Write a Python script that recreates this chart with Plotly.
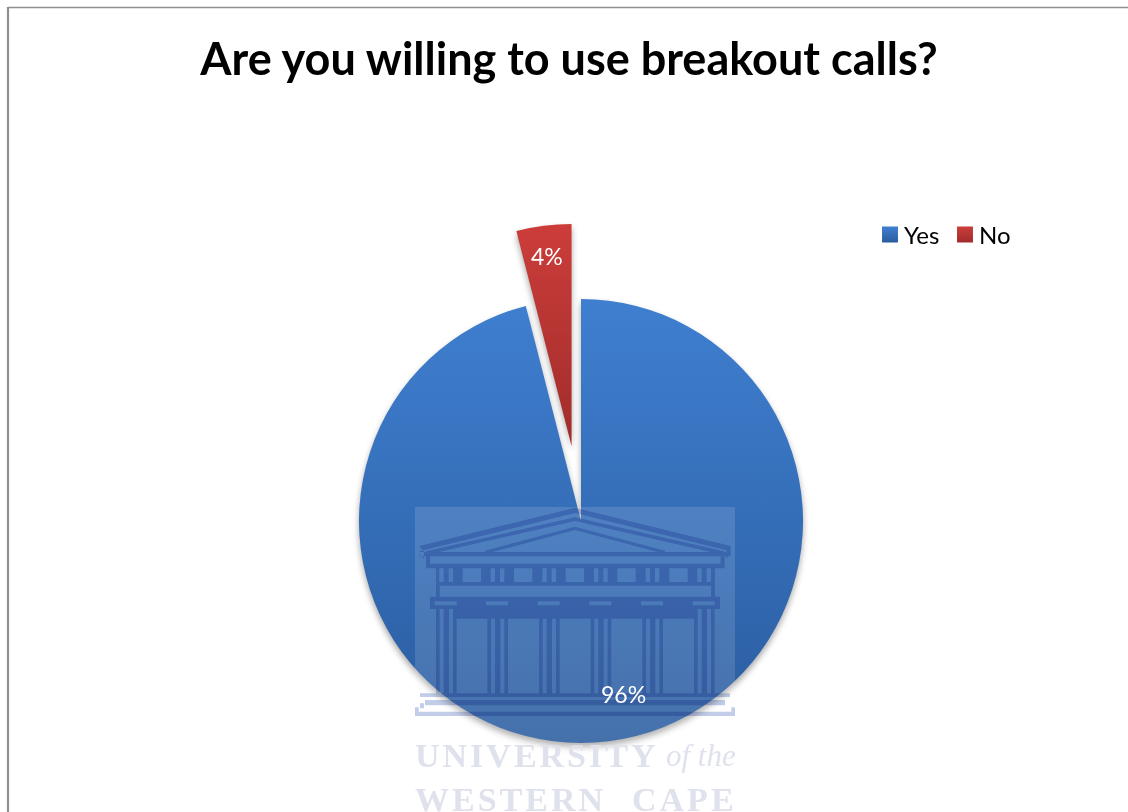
import plotly.graph_objects as go

# Survey result
labels = ["Yes", "No"]
percent = [96, 4]
colors = ["#3a78c8", "#c93c39"]
gradient_top = ["#3f7fd0", "#cc3d3a"]
gradient_bottom = ["#2a5c9f", "#a02c2b"]
chart_title = "Are you willing to use breakout calls?"

WIDTH, HEIGHT = 1128, 830  # the sheet runs past the bottom of the window


def fx(px):
    return px / WIDTH


def fy(py):
    return 1 - py / HEIGHT


def bx(u):
    return fx(400 + u / 3)


def by(v):
    return fy(490 + v / 3)


def poly(points):
    return "M" + "L".join(f"{bx(u):.5f},{by(v):.5f}" for u, v in points) + "Z"


def box(u0, v0, u1, v1):
    return poly([(u0, v0), (u1, v0), (u1, v1), (u0, v1)])


def chevron(left, apex, right, th):
    return poly([left, apex, right, (right[0], right[1] + th), (apex[0], apex[1] + th), (left[0], left[1] + th)])


def gaps(start, end, openings):
    """Solid spans between start and end once the openings are taken out."""
    spans, cursor = [], start
    for a, b in openings:
        spans.append((cursor, a))
        cursor = b
    spans.append((cursor, end))
    return spans


# Crest emblem: pediment, frieze, capitals, columns and stepped base
column_left = [108, 262, 417, 572, 727, 882]
parts = [
    chevron((58, 168), (525, 53), (992, 168), 16),
    chevron((78, 184), (525, 82), (972, 184), 11),
    chevron((255, 182), (525, 110), (795, 182), 10),
    box(58, 186, 992, 199),
    poly([(58, 168), (58, 192), (72, 206), (72, 186)]),
    poly([(992, 168), (992, 192), (978, 206), (978, 186)]),
    box(78, 199, 90, 234),
    box(962, 199, 974, 234),
    box(78, 221, 974, 235),
]
frieze_open = []
for left, win in zip(column_left, [188, 342, 497, 652, 808, None]):
    frieze_open += [(left + 10, left + 23), (left + 38, left + 51)]
    if win:
        frieze_open.append((win, win + 55))
for a, b in gaps(108, 945, frieze_open):
    parts.append(box(a, 235, b, 276))
parts += [
    box(108, 276, 945, 287),
    box(108, 287, 119, 320),
    box(933, 287, 945, 320),
    box(90, 320, 960, 334),
]
caps_open = [(c - 4, c + 62) for c in column_left]
for a, b in gaps(90, 960, caps_open):
    parts.append(box(a, 334, b, 346))
parts += [box(90, 346, 960, 357), box(170, 357, 882, 386)]
for c in column_left:
    for a, b in [(c, c + 11), (c + 23, c + 39), (c + 51, c + 62)]:
        parts.append(box(a, 357, b, 612))
parts += [
    box(60, 610, 990, 621),
    box(75, 630, 975, 646),
    box(60, 640, 72, 655),
    box(45, 665, 1005, 678),
    box(45, 652, 56, 670),
    box(994, 652, 1005, 670),
]
emblem_path = " ".join(parts)

shapes = [
    dict(type="line", xref="paper", yref="paper", x0=fx(8), x1=fx(1128), y0=fy(7.5), y1=fy(7.5),
         line=dict(color="#8f8f8f", width=1.6)),
    dict(type="line", xref="paper", yref="paper", x0=fx(8), x1=fx(8), y0=fy(7), y1=fy(830),
         line=dict(color="#8f8f8f", width=2.2)),
    dict(type="rect", xref="paper", yref="paper", x0=fx(415), x1=fx(735), y0=fy(507), y1=fy(830),
         fillcolor="rgba(255,255,255,0.13)", line=dict(width=0)),
    dict(type="path", xref="paper", yref="paper", path=emblem_path, fillrule="nonzero",
         fillcolor="#c2cdea", line=dict(width=0)),
]


def note(text, px, py, size, color, family="Lato", xanchor="center", bold=False, italic=False):
    return dict(text=f"<b>{text}</b>" if bold else (f"<i>{text}</i>" if italic else text),
                xref="paper", yref="paper", x=fx(px), y=fy(py), xanchor=xanchor, yanchor="middle",
                align=xanchor if xanchor == "left" else "center",
                showarrow=False, font=dict(family=family, size=size, color=color))


SERIF = "Liberation Serif"
INK = "#dfe2ec"
annotations = [
    note("UNIVERSITY", 413, 755, 34, INK, SERIF, "left", bold=True),
    note("WESTERN", 413, 799, 34, INK, SERIF, "left", bold=True),
    note("CAPE", 630, 799, 34, INK, SERIF, "left", bold=True),
    note("of the", 664, 755, 31, INK, SERIF, "left", italic=True),
    note(f"{percent[0]}%", 623, 694, 23, "white"),
    note(f"{percent[1]}%", 547, 256, 23, "white"),
]

# The pull widens the slice layout, so the domain is sized for radius * (1 + pull)
radius, pull, cx, cy = 222, 0.34, 581, 521
half = radius * (1 + pull)

fig = go.Figure(
    go.Pie(
        labels=labels,
        values=percent,
        sort=False,
        direction="clockwise",
        rotation=0,
        pull=[0, pull],
        textinfo="none",
        hoverinfo="label+percent",
        marker=dict(colors=colors, line=dict(width=0)),
        domain=dict(x=[fx(cx - half), fx(cx + half)], y=[fy(cy + half), fy(cy - half)]),
    )
)
fig.update_layout(
    width=WIDTH,
    height=HEIGHT,
    margin=dict(l=0, r=0, t=0, b=0),
    paper_bgcolor="white",
    title=dict(text=f"<b>{chart_title}</b>", x=fx(569), y=fy(59), xanchor="center", yanchor="middle",
               xref="paper", yref="paper", font=dict(family="Lato", size=45, color="black")),
    showlegend=True,
    legend=dict(orientation="h", x=fx(864), y=fy(235), xanchor="left", yanchor="middle",
                font=dict(family="Lato", size=24, color="black"), itemsizing="constant",
                entrywidth=30, entrywidthmode="pixels",
                bgcolor="rgba(0,0,0,0)"),
    shapes=shapes,
    annotations=annotations,
)

# Vertical gradients and a soft shadow for the slices, multiply blending for the emblem
post_script = """
document.documentElement.style.overflow = 'hidden';
document.body.style.overflow = 'hidden';
var NS = 'http://www.w3.org/2000/svg';
var svg = document.querySelector('.main-svg');
var defs = svg.querySelector('defs');
var tops = %s, bottoms = %s;
function grad(id, a, b) {
  var g = document.createElementNS(NS, 'linearGradient');
  g.setAttribute('id', id);
  g.setAttribute('x1', '0'); g.setAttribute('y1', '0');
  g.setAttribute('x2', '0'); g.setAttribute('y2', '1');
  [[0, a], [1, b]].forEach(function (s) {
    var stop = document.createElementNS(NS, 'stop');
    stop.setAttribute('offset', s[0]);
    stop.setAttribute('stop-color', s[1]);
    g.appendChild(stop);
  });
  defs.appendChild(g);
}
tops.forEach(function (c, i) { grad('slice-grad-' + i, c, bottoms[i]); });
document.querySelectorAll('.slice path.surface').forEach(function (p, i) {
  p.style.fill = 'url(#slice-grad-' + i + ')';
  p.style.filter = 'drop-shadow(0px 4px 3px rgba(0,0,0,0.35))';
});
document.querySelectorAll('.legendpie').forEach(function (p, i) {
  p.style.fill = 'url(#slice-grad-' + i + ')';
  p.setAttribute('transform', 'translate(26,0) scale(1.33)');
});
var paths = document.querySelectorAll('.layer-above .shapelayer path');
var emblem = paths[paths.length - 1];
emblem.style.mixBlendMode = 'multiply';
emblem.style.filter = 'blur(0.5px)';
document.querySelectorAll('.annotation-text').forEach(function (t, i) {
  if (i < 3) t.style.letterSpacing = '3px';
});
""" % (gradient_top, gradient_bottom)

fig.write_html("out.html", post_script=post_script)
